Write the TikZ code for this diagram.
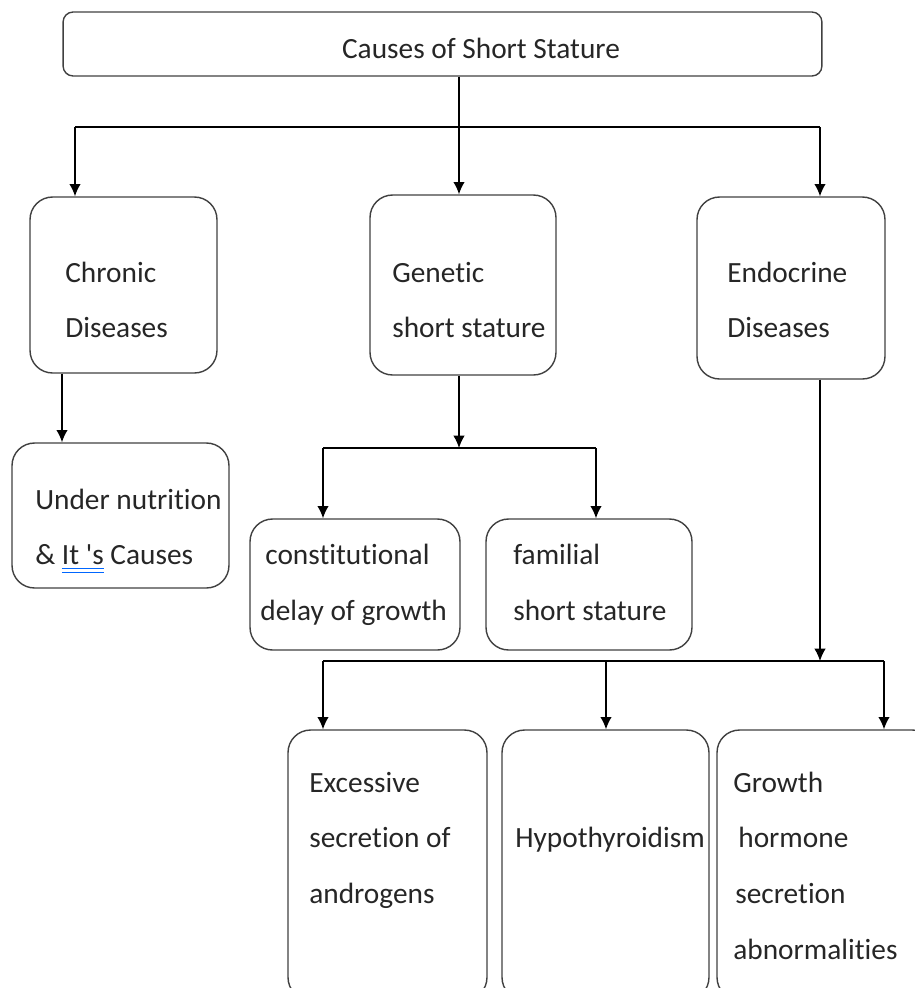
\documentclass[tikz,border=0pt]{standalone}
\usepackage{fontspec}
\setmainfont{Carlito}[Ligatures={NoCommon}]
\usepackage{tikz}
\usetikzlibrary{positioning,arrows.meta,calc}
\tikzset{
    heading/.style = {
        draw=black!75,
        shape=rectangle,
        rounded corners=0.2cm,
        line width=0.8pt
    },
    cause/.style = {
        draw=black!75,
        shape=rectangle,
        rounded corners=0.45cm,
        line width=0.8pt
    },
    boxtext/.style = {
        anchor=mid west,
        inner sep=0pt,
        text=black!85,
        font=\fontsize{16.7}{20}\selectfont
    },
    >={Latex[length=7pt,width=6.5pt]},
}
% blue double underline of the spell checker
\newcommand\spellmark[1]{\setbox0\hbox{#1}%
  \rlap{\textcolor{blue!60!cyan}{\rule[-3pt]{\wd0}{0.6pt}}}%
  \rlap{\textcolor{blue!60!cyan}{\rule[-5pt]{\wd0}{0.6pt}}}\box0\relax}

\begin{document}
\begin{tikzpicture}[x=0.02cm,y=-0.02cm]
            \useasboundingbox (0,0) rectangle (915,988);
            \clip (0,0) rectangle (915,988);

            \node[heading, minimum width=15.18cm, minimum height=1.28cm] (top) at (442.5,44) {};
            \node[boxtext, anchor=center] (toptext) at (481,48) {Causes of Short Stature};

            \node[cause, minimum width=3.74cm, minimum height=3.52cm] (chronic) at (123.5,285) {};
            \node[cause, minimum width=3.72cm, minimum height=3.6cm] (genetic) at (463,285) {};
            \node[cause, minimum width=3.76cm, minimum height=3.64cm] (endocrine) at (791,288) {};
            \node[cause, minimum width=4.34cm, minimum height=2.9cm] (under) at (120.5,515.5) {};
            \node[cause, minimum width=4.2cm, minimum height=2.62cm] (constitutional) at (355,584.5) {};
            \node[cause, minimum width=4.12cm, minimum height=2.62cm] (familial) at (589,584.5) {};
            \node[cause, minimum width=3.98cm, minimum height=5.4cm] (androgens) at (387.5,865) {};
            \node[cause, minimum width=4.14cm, minimum height=5.4cm] (hypothyroid) at (605.5,865) {};
            \node[cause, minimum width=4.36cm, minimum height=5.4cm] (growth) at (826,865) {};

            \node[boxtext] (chronic1) at (65,278) {Chronic};
            \node[boxtext] (chronic2) at (65,333) {Diseases};
            \node[boxtext] (genetic1) at (392,278) {Genetic};
            \node[boxtext] (genetic2) at (392,333) {short stature};
            \node[boxtext] (endocrine1) at (727,278) {Endocrine};
            \node[boxtext] (endocrine2) at (727,333) {Diseases};
            \node[boxtext] (under1) at (35,505) {Under nutrition};
            \node[boxtext] (under2) at (35,560) {\& \spellmark{It \textquotesingle s} Causes};
            \node[boxtext] (constitutional1) at (265,560) {constitutional};
            \node[boxtext] (constitutional2) at (260,616) {delay of growth};
            \node[boxtext] (familial1) at (513,560) {familial};
            \node[boxtext] (familial2) at (513,616) {short stature};
            \node[boxtext] (androgens1) at (309,788) {Excessive};
            \node[boxtext] (androgens2) at (309,843) {secretion of};
            \node[boxtext] (androgens3) at (309,899) {androgens};
            \node[boxtext] (hypothyroid1) at (515,843) {Hypothyroidism};
            \node[boxtext] (growth1) at (733,788) {Growth};
            \node[boxtext] (growth2) at (738,843) {hormone};
            \node[boxtext] (growth3) at (735,899) {secretion};
            \node[boxtext] (growth4) at (733,955) {abnormalities};

            % first level
            \coordinate (busA) at (75,127);
            \coordinate (busB) at (459,127);
            \coordinate (busC) at (820,127);
            \path[draw, line width=0.8pt] (busA) -- (busC);
            \path[draw, ->, line width=0.8pt] (top.south -| busB) -- (busB |- genetic.north);
            \path[draw, ->, line width=0.8pt] (busA) -- (busA |- chronic.north);
            \path[draw, ->, line width=0.8pt] (busC) -- (busC |- endocrine.north);

            % chronic diseases
            \coordinate (chrx) at (62,400);
            \path[draw, ->, line width=0.8pt] (chronic.south -| chrx) -- (under.north -| chrx);

            % genetic
            \coordinate (genL) at (323,448);
            \coordinate (genM) at (459,448);
            \coordinate (genR) at (596,448);
            \path[draw, ->, line width=0.8pt] (genetic.south -| genM) -- (genM);
            \path[draw, line width=0.8pt] (genL) -- (genR);
            \path[draw, ->, line width=0.8pt] (genL) -- (genL |- constitutional.north);
            \path[draw, ->, line width=0.8pt] (genR) -- (genR |- familial.north);

            % endocrine
            \coordinate (endL) at (323,661);
            \coordinate (endM) at (606,661);
            \coordinate (endT) at (820,661);
            \coordinate (endR) at (884,661);
            \path[draw, ->, line width=0.8pt] (endocrine.south -| endT) -- (endT);
            \path[draw, line width=0.8pt] (endL) -- (endR);
            \path[draw, ->, line width=0.8pt] (endL) -- (endL |- androgens.north);
            \path[draw, ->, line width=0.8pt] (endM) -- (endM |- hypothyroid.north);
            \path[draw, ->, line width=0.8pt] (endR) -- (endR |- growth.north);

\end{tikzpicture}
\end{document}
